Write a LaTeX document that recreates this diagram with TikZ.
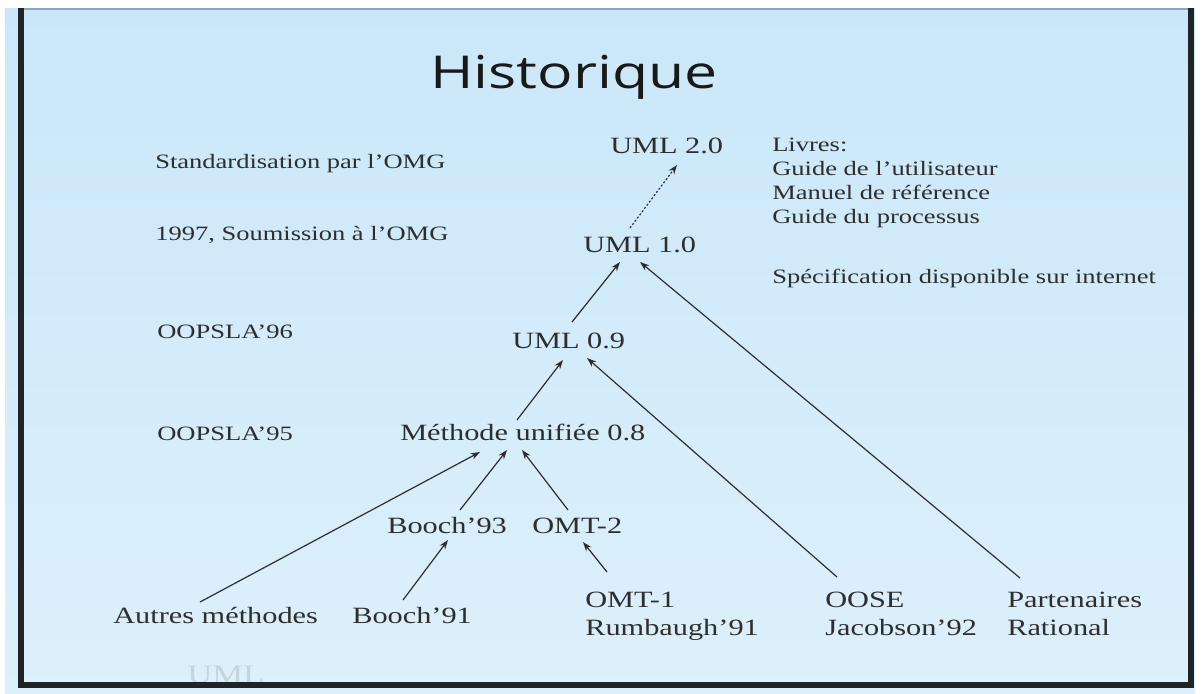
\documentclass[tikz,border=0pt]{standalone}
\usepackage{fontspec}
\setmainfont{Liberation Serif}[FakeStretch=1.3]
\newfontfamily\titlefont{Open Sans}[FakeStretch=1.3]
\usetikzlibrary{arrows.meta}
\definecolor{bgtop}{HTML}{CAE7F9}
\definecolor{bgbot}{HTML}{DDF0FB}
\definecolor{ink}{HTML}{2E2E2E}
\definecolor{framec}{HTML}{1E2428}
\definecolor{topline}{HTML}{8FA6B6}
\begin{document}
\begin{tikzpicture}[x=0.75pt,y=-0.75pt,
  lbl/.style={inner sep=0pt, anchor=base west, text=ink, font=\fontsize{17.5}{20}\selectfont},
  small/.style={lbl, font=\fontsize{15.3}{18}\selectfont},
  arr/.style={draw=ink, line width=0.9pt, -{Stealth[length=7pt,width=5pt]}},
  darr/.style={arr, dash pattern=on 1.5pt off 1.5pt},
]
\useasboundingbox (0,0) rectangle (1201,693);
\fill[white] (0,0) rectangle (1201,693);
\shade[top color=bgtop, bottom color=bgbot] (5,8) rectangle (1195,693);
% watermark
\node[lbl, text=bgbot!75!gray, font=\fontsize{20}{22}\selectfont] (wm) at (187,683) {UML};
% frame
\draw[line width=1.2pt, topline] (20,9) -- (1191,9);
\draw[line width=4.5pt, framec] (21,8) -- (21,684.5) -- (1191,684.5) -- (1191,8);
% title
\node[lbl, text=black!90, font=\titlefont\fontsize{34}{40}\selectfont] (title) at (430,88) {Historique};
% left column
\node[small] (std) at (155,168) {Standardisation par l'OMG};
\node[small] (soum) at (155,240) {1997, Soumission à l'OMG};
\node[small] (o96) at (157,338) {OOPSLA'96};
\node[small] (o95) at (157,440) {OOPSLA'95};
% right column
\node[small] (livres) at (772,151) {Livres:};
\node[small] (guide) at (772,175) {Guide de l'utilisateur};
\node[small] (manuel) at (772,199) {Manuel de référence};
\node[small] (proc) at (772,223) {Guide du processus};
\node[small] (spec) at (772,283) {Spécification disponible sur internet};
% tree
\node[lbl] (u20) at (610,153) {UML 2.0};
\node[lbl] (u10) at (583,252) {UML 1.0};
\node[lbl] (u09) at (512,348) {UML 0.9};
\node[lbl] (meth) at (400,440) {Méthode unifiée 0.8};
\node[lbl] (b93) at (387,533) {Booch'93};
\node[lbl] (omt2) at (532,533) {OMT-2};
\node[lbl] (autres) at (113,623) {Autres méthodes};
\node[lbl] (b91) at (352,623) {Booch'91};
\node[lbl] (omt1) at (585,607) {OMT-1};
\node[lbl] (rumb) at (585,635) {Rumbaugh'91};
\node[lbl] (oose) at (825,607) {OOSE};
\node[lbl] (jac) at (825,635) {Jacobson'92};
\node[lbl] (part) at (1007,607) {Partenaires};
\node[lbl] (rat) at (1007,635) {Rational};
% connectors
\draw[darr] ([shift={(47,-24)}]u10.base west) -- ([shift={(67,12)}]u20.base west);
\draw[arr] ([shift={(60,-26)}]u09.base west) -- ([shift={(37,10)}]u10.base west);
\draw[arr] ([shift={(13,-29)}]part.base west) -- ([shift={(57,10)}]u10.base west);
\draw[arr] ([shift={(12,-30)}]oose.base west) -- ([shift={(75,10)}]u09.base west);
\draw[arr] ([shift={(117,-20)}]meth.base west) -- ([shift={(51,12)}]u09.base west);
\draw[arr] ([shift={(87,-21)}]autres.base west) -- ([shift={(80,12)}]meth.base west);
\draw[arr] ([shift={(73,-23)}]b93.base west) -- ([shift={(107,10)}]meth.base west);
\draw[arr] ([shift={(36,-23)}]omt2.base west) -- ([shift={(122,10)}]meth.base west);
\draw[arr] ([shift={(51,-23)}]b91.base west) -- ([shift={(61,7)}]b93.base west);
\draw[arr] ([shift={(22,-35)}]omt1.base west) -- ([shift={(51,9)}]omt2.base west);
\end{tikzpicture}
\end{document}
